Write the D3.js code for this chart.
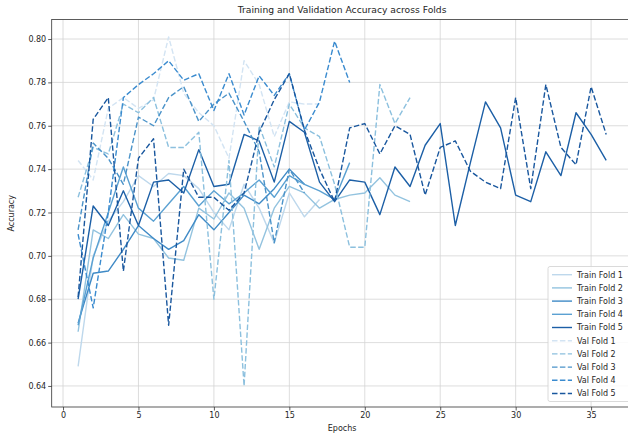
<!DOCTYPE html>
<html lang="en">
<head>
<meta charset="UTF-8">
<title>Training and Validation Accuracy across Folds</title>
<script src="https://d3js.org/d3.v7.min.js"></script>
<style>
  body { margin: 0; background: #fff; }
  text { font-family: "DejaVu Sans", sans-serif; fill: #262626; }
</style>
</head>
<body>

<div id="chart"></div>

<script>

// accuracy per epoch (epochs start at 1)
const trainFold1 = [0.649, 0.700, 0.716, 0.725, 0.737, 0.732, 0.738, 0.737, 0.731, 0.720, 0.712, 0.733, 0.722, 0.706, 0.729, 0.718, 0.726];
const trainFold2 = [0.665, 0.712, 0.708, 0.719, 0.710, 0.708, 0.699, 0.698, 0.722, 0.717, 0.729, 0.722, 0.703, 0.722, 0.732, 0.729, 0.722, 0.726, 0.728, 0.729, 0.736, 0.728, 0.725];
const trainFold3 = [0.669, 0.692, 0.693, 0.703, 0.714, 0.708, 0.703, 0.707, 0.719, 0.712, 0.720, 0.728, 0.724, 0.731, 0.740, 0.733];
const trainFold4 = [0.668, 0.699, 0.720, 0.741, 0.722, 0.716, 0.724, 0.732, 0.723, 0.730, 0.724, 0.729, 0.735, 0.727, 0.737, 0.733, 0.730, 0.726, 0.743];
const trainFold5 = [0.680, 0.723, 0.714, 0.730, 0.714, 0.734, 0.735, 0.729, 0.749, 0.732, 0.733, 0.756, 0.753, 0.734, 0.762, 0.757, 0.734, 0.725, 0.735, 0.734, 0.719, 0.741, 0.732, 0.751, 0.761, 0.714, 0.743, 0.771, 0.759, 0.728, 0.725, 0.748, 0.737, 0.766, 0.756, 0.744];

const valFold1 = [0.744, 0.735, 0.768, 0.773, 0.768, 0.772, 0.801, 0.775, 0.766, 0.760, 0.745, 0.790, 0.779, 0.755, 0.771, 0.770, 0.770];
const valFold2 = [0.727, 0.750, 0.747, 0.770, 0.766, 0.773, 0.750, 0.750, 0.757, 0.680, 0.744, 0.640, 0.760, 0.741, 0.770, 0.759, 0.755, 0.733, 0.704, 0.704, 0.779, 0.761, 0.773];
const valFold3 = [0.712, 0.752, 0.745, 0.733, 0.764, 0.760, 0.773, 0.778, 0.762, 0.770, 0.775, 0.762, 0.748, 0.706, 0.740, 0.729];
const valFold4 = [0.710, 0.676, 0.720, 0.773, 0.779, 0.784, 0.790, 0.781, 0.784, 0.767, 0.784, 0.765, 0.783, 0.774, 0.784, 0.758, 0.771, 0.799, 0.780];
const valFold5 = [0.681, 0.763, 0.773, 0.693, 0.745, 0.754, 0.668, 0.740, 0.727, 0.727, 0.721, 0.729, 0.757, 0.772, 0.784, 0.758, 0.740, 0.725, 0.759, 0.761, 0.747, 0.760, 0.756, 0.728, 0.750, 0.753, 0.739, 0.734, 0.731, 0.773, 0.731, 0.779, 0.750, 0.742, 0.778, 0.756];

const xTicks = [0, 5, 10, 15, 20, 25, 30, 35];
const yTicks = [0.64, 0.66, 0.68, 0.70, 0.72, 0.74, 0.76, 0.78, 0.80];

const trainColors = ["#bed8ec", "#93c3df", "#3f8ac6", "#5ba1d2", "#1c5fa6"];
const valColors   = ["#d3e4f3", "#8cc0de", "#4b93c9", "#3a8bcf", "#19579e"];

const series = [
  { name: "Train Fold 1", values: trainFold1, color: trainColors[0], dash: null },
  { name: "Train Fold 2", values: trainFold2, color: trainColors[1], dash: null },
  { name: "Train Fold 3", values: trainFold3, color: trainColors[2], dash: null },
  { name: "Train Fold 4", values: trainFold4, color: trainColors[3], dash: null },
  { name: "Train Fold 5", values: trainFold5, color: trainColors[4], dash: null },
  { name: "Val Fold 1", values: valFold1, color: valColors[0], dash: "5.5,2.4" },
  { name: "Val Fold 2", values: valFold2, color: valColors[1], dash: "5.5,2.4" },
  { name: "Val Fold 3", values: valFold3, color: valColors[2], dash: "5.5,2.4" },
  { name: "Val Fold 4", values: valFold4, color: valColors[3], dash: "5.5,2.4" },
  { name: "Val Fold 5", values: valFold5, color: valColors[4], dash: "5.5,2.4" }
];

const width = 628;
const height = 436;
const margin = { top: 19.5, right: -4.6, bottom: 29, left: 51.7 };

const svg = d3.select("#chart")
  .append("svg")
    .attr("width", width)
    .attr("height", height);

const x = d3.scaleLinear()
  .domain([-0.75, 37.75])
  .range([margin.left, width - margin.right]);

const y = d3.scaleLinear()
  .domain([0.6303, 0.809])
  .range([height - margin.bottom, margin.top]);

// grid
svg.append("g")
  .selectAll("line")
  .data(xTicks)
  .join("line")
    .attr("x1", d => x(d)).attr("x2", d => x(d))
    .attr("y1", y.range()[0]).attr("y2", y.range()[1])
    .attr("stroke", "#d4d4d4")
    .attr("stroke-width", 0.8);

svg.append("g")
  .selectAll("line")
  .data(yTicks)
  .join("line")
    .attr("x1", x.range()[0]).attr("x2", x.range()[1])
    .attr("y1", d => y(d)).attr("y2", d => y(d))
    .attr("stroke", "#d4d4d4")
    .attr("stroke-width", 0.8);

// lines
const line = d3.line()
  .x((d, i) => x(i + 1))
  .y(d => y(d));

svg.append("g")
  .selectAll("path")
  .data(series)
  .join("path")
    .attr("d", d => line(d.values))
    .attr("fill", "none")
    .attr("stroke", d => d.color)
    .attr("stroke-width", 1.4)
    .attr("stroke-dasharray", d => d.dash)
    .attr("stroke-linejoin", "round");

// axes
const xAxis = svg.append("g")
  .attr("transform", "translate(0," + y.range()[0] + ")")
  .call(d3.axisBottom(x).tickValues(xTicks).tickSize(3.5).tickPadding(2).tickFormat(d3.format("d")));

const yAxis = svg.append("g")
  .attr("transform", "translate(" + x.range()[0] + ",0)")
  .call(d3.axisLeft(y).tickValues(yTicks).tickSize(3.5).tickPadding(2).tickFormat(d3.format(".2f")));

[xAxis, yAxis].forEach(g => {
  g.select(".domain").remove();
  g.selectAll(".tick line").attr("stroke", "#333").attr("stroke-width", 0.8);
  g.selectAll(".tick text").attr("font-size", 8).attr("font-family", "DejaVu Sans, sans-serif").attr("fill", "#262626");
});

// frame
svg.append("rect")
  .attr("x", x.range()[0])
  .attr("y", y.range()[1])
  .attr("width", x.range()[1] - x.range()[0])
  .attr("height", y.range()[0] - y.range()[1])
  .attr("fill", "none")
  .attr("stroke", "#333")
  .attr("stroke-width", 0.8);

// title and labels
svg.append("text")
  .attr("x", (x.range()[0] + x.range()[1]) / 2)
  .attr("y", 13)
  .attr("text-anchor", "middle")
  .attr("font-size", 9.2)
  .text("Training and Validation Accuracy across Folds");

svg.append("text")
  .attr("x", (x.range()[0] + x.range()[1]) / 2)
  .attr("y", 431)
  .attr("text-anchor", "middle")
  .attr("font-size", 8)
  .text("Epochs");

svg.append("text")
  .attr("transform", "translate(14," + ((y.range()[0] + y.range()[1]) / 2) + ") rotate(-90)")
  .attr("text-anchor", "middle")
  .attr("font-size", 8)
  .text("Accuracy");

// legend
const legend = svg.append("g")
  .attr("transform", "translate(548,266.5)");

legend.append("rect")
  .attr("width", 85)
  .attr("height", 135)
  .attr("rx", 2)
  .attr("fill", "white")
  .attr("fill-opacity", 0.85)
  .attr("stroke", "#d0d0d0")
  .attr("stroke-width", 0.8);

const item = legend.selectAll(".item")
  .data(series)
  .join("g")
    .attr("class", "item")
    .attr("transform", (d, i) => "translate(0," + (8.2 + i * 13.2) + ")");

item.append("line")
  .attr("x1", 4).attr("x2", 24)
  .attr("stroke", d => d.color)
  .attr("stroke-width", 1.4)
  .attr("stroke-dasharray", d => d.dash);

item.append("text")
  .attr("x", 29)
  .attr("dy", "0.35em")
  .attr("font-size", 8)
  .text(d => d.name);

</script>

</body>
</html>
